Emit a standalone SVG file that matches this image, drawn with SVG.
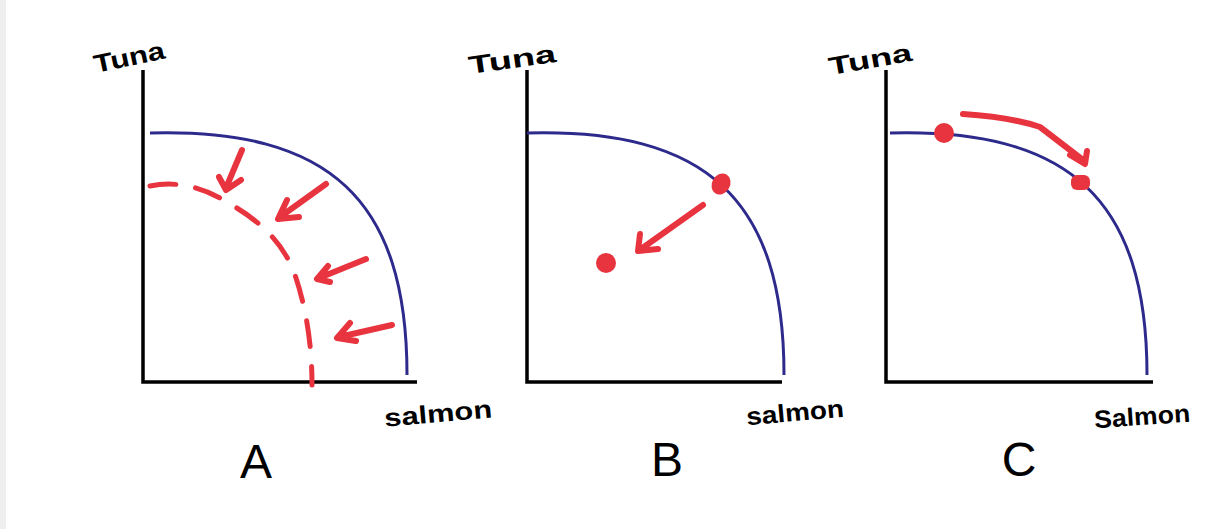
<svg xmlns="http://www.w3.org/2000/svg" width="1225" height="529" viewBox="0 0 1225 529">
<style>
.axis{fill:none;stroke:#000;stroke-width:3.5}
.ppf{fill:none;stroke:#2d2a8c;stroke-width:3}
.red{fill:none;stroke:#e8343f;stroke-width:6;stroke-linecap:round;stroke-linejoin:round}
.dash{fill:none;stroke:#e8343f;stroke-width:5;stroke-linecap:round;stroke-dasharray:26 20}
.dot{fill:#e8343f}
.lab{font-family:"Liberation Sans",Arial,sans-serif;font-weight:bold;fill:#000;font-size:25px}
.big{font-family:"Liberation Sans",Arial,sans-serif;font-size:48px;fill:#000}
</style>
<rect x="0" y="0" width="1225" height="529" fill="#fff"/>
<rect x="0" y="0" width="6" height="529" fill="#efefef"/>
<defs>
<path id="curve" d="M0,0 C180,-5 257,67 257,242"/>
</defs>

<g id="panelA">
<path class="axis" d="M143,70 V382 H417"/>
<use href="#curve" class="ppf" x="150" y="133"/>
<path class="dash" d="M150,186 Q190,178 230,204 Q280,232 295,275 Q312,325 312,385"/>
<g class="red">
<path d="M242,150 L226,188 M219,177 L226,190 L241,180"/>
<path d="M326,184 L280,217 M287,200 L278,219 L299,217"/>
<path d="M366,259 L319,278 M328,266 L317,279 L330,282"/>
<path d="M392,325 L339,337 M350,323 L337,338 L356,341"/>
</g>
<text class="lab" x="93" y="66" textLength="72" lengthAdjust="spacingAndGlyphs" transform="rotate(-12 128 56)">Tuna</text>
<text class="lab" x="384" y="422" textLength="108" lengthAdjust="spacingAndGlyphs" transform="rotate(-5 438 412)">salmon</text>
<text class="big" x="256" y="478" text-anchor="middle">A</text>
</g>

<g id="panelB">
<path class="axis" d="M527,70 V382 H782"/>
<use href="#curve" class="ppf" x="527" y="133"/>
<ellipse class="dot" cx="721" cy="184" rx="9" ry="11" transform="rotate(30 721 184)"/>
<circle class="dot" cx="606" cy="263" r="10"/>
<g class="red">
<path d="M703,205 L641,249 M640,234 L638,251 L658,249"/>
</g>
<text class="lab" x="468" y="68" textLength="88" lengthAdjust="spacingAndGlyphs" transform="rotate(-8 512 58)">Tuna</text>
<text class="lab" x="746" y="421" textLength="98" lengthAdjust="spacingAndGlyphs" transform="rotate(-5 795 412)">salmon</text>
<text class="big" x="667" y="476" text-anchor="middle">B</text>
</g>

<g id="panelC">
<path class="axis" d="M886,70 V382 H1153"/>
<use href="#curve" class="ppf" x="890" y="133"/>
<circle class="dot" cx="944" cy="133" r="10"/>
<rect class="dot" x="1071" y="175" width="19" height="15" rx="6"/>
<g class="red">
<path d="M963,114 Q1010,117 1040,127 L1083,160 M1070,155 L1085,164 L1087,151"/>
</g>
<text class="lab" x="828" y="68" textLength="84" lengthAdjust="spacingAndGlyphs" transform="rotate(-10 870 58)">Tuna</text>
<text class="lab" x="1094" y="425" textLength="96" lengthAdjust="spacingAndGlyphs" transform="rotate(-4 1142 415)">Salmon</text>
<text class="big" x="1019" y="476" text-anchor="middle">C</text>
</g>
</svg>
